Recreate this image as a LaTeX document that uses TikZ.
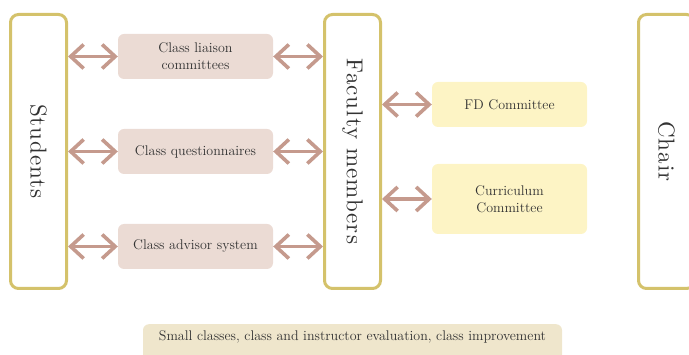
\documentclass[tikz,border=0pt]{standalone}
\usepackage{fontspec}
\newfontfamily\spacedfont{lmroman10-regular}[Extension=.otf, LetterSpace=4.5]
\usetikzlibrary{arrows.meta}
\definecolor{gold}{HTML}{D4C26B}
\definecolor{pinkf}{HTML}{EBDBD4}
\definecolor{arrowc}{HTML}{C59A8D}
\definecolor{yelf}{HTML}{FDF4C5}
\definecolor{botf}{HTML}{EFE6CC}
\definecolor{txt}{HTML}{333333}
\tikzset{
  tallbox/.style={draw=gold, line width=3pt, fill=white, rounded corners=8pt,
    minimum width=56pt, minimum height=274pt, inner sep=0pt},
  talltext/.style={rotate=-90, text=txt, font=\spacedfont\fontsize{23}{23}\selectfont, inner sep=0pt},
  pinkbox/.style={fill=pinkf, rounded corners=6pt, minimum width=155pt, minimum height=45pt,
    align=center, inner sep=0pt, text=txt, font=\fontsize{14}{17}\selectfont},
  yelbox/.style={fill=yelf, rounded corners=6pt, minimum width=155pt,
    align=center, inner sep=0pt, text=txt, font=\fontsize{14}{17}\selectfont},
  dbl/.style={draw=arrowc, line width=3.6pt,
    {Straight Barb[length=13pt,width=24pt]}-{Straight Barb[length=13pt,width=24pt]}}
}
\begin{document}
\begin{tikzpicture}[x=1pt,y=-1pt]
\useasboundingbox (0,0) rectangle (689,355);
\clip (0,0) rectangle (689,355);
% tall boxes
\node[tallbox] (stu) at (38.5,151.5) {};
\node[talltext] (stut) at (stu.center) {Students};
\node[tallbox] (fac) at (352.5,151.5) {};
\node[talltext] (fact) at (fac.center) {Faculty members};
\node[tallbox] (cha) at (666.5,151.5) {};
\node[talltext] (chat) at (cha.center) {Chair};
% pink boxes
\node[pinkbox] (p1) at (195.5,56.5) {Class liaison\\committees};
\node[pinkbox] (p2) at (195.5,151.5) {Class questionnaires};
\node[pinkbox] (p3) at (195.5,246.5) {Class advisor system};
% yellow boxes
\node[yelbox, minimum height=45pt] (y1) at (509.5,104.5) {FD Committee};
\node[yelbox, minimum height=70pt] (y2) at (509.5,199) {Curriculum\\Committee};
% arrows
\foreach \p in {p1,p2,p3}{
  \draw[dbl] (stu.east |- \p.west) -- (\p.west);
  \draw[dbl] (\p.east) -- (fac.west |- \p.east);
}
\foreach \q in {y1,y2}{
  \draw[dbl] (fac.east |- \q.west) -- (\q.west);
}
% bottom box
\node[fill=botf, rounded corners=6pt, minimum width=419pt, minimum height=60pt,
  anchor=north, inner sep=0pt] (botbg) at (352.5,324) {};
\node[text=txt, font=\fontsize{14}{17}\selectfont, inner sep=0pt] (bott) at (352.5,337)
  {Small classes, class and instructor evaluation, class improvement};
\end{tikzpicture}
\end{document}
